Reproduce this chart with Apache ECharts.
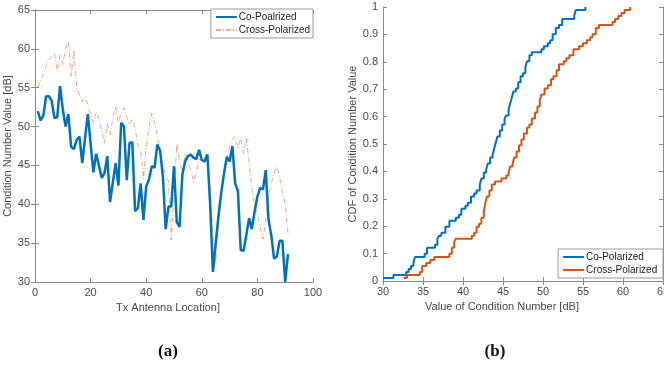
<!DOCTYPE html>
<html>
<head>
<meta charset="utf-8">
<script src="https://cdn.jsdelivr.net/npm/echarts@6/dist/echarts.min.js"></script>
<style>
  html, body { margin: 0; padding: 0; background: #fff; }
  #chart { width: 664px; height: 372px; }
</style>
</head>
<body>
<div id="chart"></div>
<script>
// (a) condition number per Tx antenna location, locations 1..91
const coPol = [
  52.0, 50.8, 51.4, 53.9, 53.9, 53.3, 51.1, 51.2, 55.2, 52.2,
  50.0, 51.6, 47.4, 47.1, 48.3, 48.7, 45.3, 48.5, 51.6, 47.8,
  44.1, 46.5, 45.0, 43.4, 44.0, 46.2, 40.3, 42.8, 45.3, 42.4,
  50.5, 50.0, 43.1, 47.9, 48.0, 39.1, 39.5, 42.7, 38.0, 42.3,
  43.2, 44.9, 44.7, 47.7, 46.9, 43.6, 36.8, 39.7, 39.7, 44.9,
  37.7, 37.1, 43.8, 45.5, 46.2, 46.4, 46.0, 45.8, 47.0, 45.7,
  45.5, 46.4, 40.0, 31.3, 35.0, 38.5, 41.5, 44.0, 46.1, 45.5,
  47.5, 42.7, 41.7, 34.1, 34.0, 36.0, 38.2, 36.8, 39.1, 41.0,
  42.1, 41.9, 44.4, 38.0, 36.0, 33.0, 33.3, 35.3, 35.3, 30.0,
  33.6
];
const crossPol = [
  55.0, 56.0, 56.6, 57.8, 58.6, 59.0, 59.5, 57.1, 59.2, 58.0,
  60.1, 61.0, 56.5, 59.8, 55.0, 54.0, 53.2, 53.8, 52.8, 51.5,
  50.4, 51.9, 51.0, 49.5, 47.8, 50.4, 49.0, 51.0, 52.6, 50.5,
  51.8, 52.4, 51.2, 50.3, 51.0, 49.8, 47.5, 47.0, 43.3, 47.5,
  50.0, 51.7, 50.5, 48.7, 46.5, 45.0, 43.7, 43.0, 35.4, 41.0,
  47.8, 45.5, 44.0, 46.5, 45.5, 44.5, 42.9, 44.0, 45.9, 45.5,
  46.0, 46.6, 42.0, 36.0, 32.5, 37.0, 41.5, 44.5, 46.0, 47.5,
  48.3, 48.7, 47.2, 48.6, 46.5, 48.5, 45.5, 42.0, 40.0, 38.8,
  37.0, 35.5, 38.0, 41.0, 42.7, 44.0, 44.9, 43.5, 41.5, 40.0,
  36.3
];

// (b) CDF steps: [condition number dB, cumulative probability]
const coCdf = [
  [30, 0.011], [31.3, 0.022], [32.9, 0.033], [33.2, 0.044], [33.5, 0.055],
  [33.8, 0.066], [34.0, 0.088], [35.2, 0.099], [35.5, 0.121], [36.5, 0.132],
  [36.8, 0.154], [37.0, 0.165], [37.3, 0.176], [37.8, 0.198], [38.3, 0.220],
  [39.1, 0.231], [39.5, 0.242], [39.8, 0.264], [40.3, 0.275], [40.6, 0.286],
  [41.0, 0.308], [41.4, 0.319], [41.7, 0.330], [42.1, 0.352], [42.3, 0.374],
  [42.6, 0.396], [42.9, 0.407], [43.1, 0.429], [43.4, 0.451], [43.7, 0.462],
  [43.9, 0.484], [44.1, 0.505], [44.3, 0.527], [44.6, 0.549], [44.9, 0.571],
  [45.2, 0.593], [45.4, 0.604], [45.7, 0.626], [45.9, 0.648], [46.1, 0.670],
  [46.3, 0.692], [46.6, 0.703], [46.9, 0.725], [47.2, 0.747], [47.5, 0.758],
  [47.8, 0.780], [48.0, 0.802], [48.3, 0.824], [48.6, 0.835], [49.8, 0.846],
  [50.1, 0.857], [50.6, 0.868], [50.9, 0.879], [51.2, 0.901], [51.6, 0.923],
  [52.0, 0.934], [52.4, 0.956], [53.9, 0.967], [54.1, 0.989], [55.3, 1.0]
];
const crossCdf = [
  [32.6, 0.011], [33.0, 0.022], [34.6, 0.033], [34.9, 0.055], [35.4, 0.066],
  [35.9, 0.077], [36.4, 0.088], [38.3, 0.099], [38.6, 0.121], [38.9, 0.143],
  [39.1, 0.154], [41.1, 0.165], [41.4, 0.176], [41.7, 0.198], [42.0, 0.209],
  [42.3, 0.231], [42.6, 0.253], [42.8, 0.286], [43.0, 0.308], [43.3, 0.330],
  [43.6, 0.352], [44.0, 0.363], [44.8, 0.374], [45.4, 0.385], [45.7, 0.396],
  [45.9, 0.418], [46.2, 0.429], [46.4, 0.451], [46.7, 0.473], [47.0, 0.495],
  [47.3, 0.516], [47.6, 0.538], [48.0, 0.560], [48.3, 0.571], [48.6, 0.593],
  [49.0, 0.615], [49.3, 0.637], [49.6, 0.659], [49.8, 0.681], [50.2, 0.703],
  [50.6, 0.714], [51.0, 0.736], [51.3, 0.747], [51.7, 0.769], [52.0, 0.791],
  [52.6, 0.802], [52.9, 0.813], [53.3, 0.824], [53.8, 0.846], [54.5, 0.857],
  [55.0, 0.868], [55.5, 0.879], [55.9, 0.890], [56.2, 0.901], [56.6, 0.923],
  [57.0, 0.934], [58.7, 0.945], [59.0, 0.956], [59.4, 0.967], [59.8, 0.978],
  [60.2, 0.989], [60.9, 1.0]
];

const BLUE = "#0072BD";
const ORANGE = "#D95319";
const AXIS = "#8a8a8a";
const LABEL = "#4a4a4a";
const FONT = "Liberation Sans";

function axisBase(min, max, interval, horizontal) {
  const label = { color: LABEL, fontSize: 11, fontFamily: FONT, margin: 5 };
  if (horizontal) {
    label.alignMinLabel = "center";
    label.alignMaxLabel = "center";
  } else {
    label.verticalAlignMinLabel = "middle";
    label.verticalAlignMaxLabel = "middle";
  }
  return {
    type: "value",
    min, max, interval,
    axisLine: { show: true, lineStyle: { color: AXIS, width: 1 } },
    axisTick: { show: true, inside: true, length: 4, lineStyle: { color: AXIS } },
    splitLine: { show: false },
    axisLabel: label,
    nameTextStyle: { color: LABEL, fontSize: 11, fontFamily: FONT },
  };
}

// opposite-side spine with inward ticks, no labels (matlab box)
function mirror(base, pos) {
  return Object.assign({}, base, {
    position: pos,
    axisLabel: { show: false },
    name: "",
  });
}

function legendBox(names, pos) {
  return Object.assign({
    data: names,
    orient: "vertical",
    itemWidth: 21, itemHeight: 8, itemGap: 3,
    padding: [3, 3, 3, 4],
    borderColor: "#9a9a9a", borderWidth: 1, borderRadius: 0,
    backgroundColor: "#fff",
    itemStyle: { opacity: 0 },
    textStyle: { color: "#222", fontSize: 10, fontFamily: FONT, padding: [0, 0, 0, -3] },
  }, pos);
}

const ax0 = Object.assign(axisBase(0, 100, 20, true), {
  gridIndex: 0, position: "bottom",
  name: "Tx Antenna Location]", nameLocation: "middle", nameGap: 17,
  nameTextStyle: { color: LABEL, fontSize: 11, fontFamily: FONT, padding: [0, 12, 0, 0] },
});
const ay0 = Object.assign(axisBase(30, 65, 5, false), {
  gridIndex: 0, position: "left",
  name: "Condition Number Value [dB]", nameLocation: "middle", nameGap: 19,
});
const ax1 = Object.assign(axisBase(30, 65, 5, true), {
  gridIndex: 1, position: "bottom",
  name: "Value of Condition Number [dB]", nameLocation: "middle", nameGap: 17,
  nameTextStyle: { color: LABEL, fontSize: 11, fontFamily: FONT, padding: [0, 42, 0, 0] },
});
const ay1 = Object.assign(axisBase(0, 1, 0.1, false), {
  gridIndex: 1, position: "left",
  name: "CDF of Condition Number Value", nameLocation: "middle", nameGap: 21,
});
ay1.axisLabel.formatter = (v) => String(Math.round(v * 10) / 10);

const option = {
  animation: false,
  backgroundColor: "#fff",
  textStyle: { fontFamily: FONT },
  grid: [
    { left: 35, top: 10, width: 278, height: 272, outerBoundsMode: "none" },
    { left: 383, top: 7, width: 280, height: 274, outerBoundsMode: "none" },
  ],
  xAxis: [ax0, mirror(ax0, "top"), ax1, mirror(ax1, "top")],
  yAxis: [ay0, mirror(ay0, "right"), ay1, mirror(ay1, "right")],
  legend: [
    legendBox(["Co-Poalrized", "Cross-Polarized"], { right: 351, top: 9 }),
    legendBox(["Co-Polarized", "Cross-Polarized "], { right: 1, top: 249 }),
  ],
  graphic: [
    { type: "text", x: 168, y: 352, style: { text: "(a)", align: "center", verticalAlign: "middle", font: "bold 17px 'Liberation Serif'", fill: "#111" } },
    { type: "text", x: 495, y: 352, style: { text: "(b)", align: "center", verticalAlign: "middle", font: "bold 17px 'Liberation Serif'", fill: "#111" } },
  ],
  series: [
    {
      name: "Cross-Polarized", type: "line", xAxisIndex: 0, yAxisIndex: 0,
      data: crossPol.map((v, i) => [i + 1, v]),
      showSymbol: false, symbol: "none",
      lineStyle: { color: "rgba(217,83,25,0.5)", width: 1, type: [5, 2, 1, 2] },
      itemStyle: { color: "rgba(217,83,25,0.5)" },
      z: 2,
    },
    {
      name: "Co-Poalrized", type: "line", xAxisIndex: 0, yAxisIndex: 0,
      data: coPol.map((v, i) => [i + 1, v]),
      showSymbol: false, symbol: "none",
      lineStyle: { color: BLUE, width: 2.5 },
      itemStyle: { color: BLUE },
      z: 3,
    },
    {
      name: "Co-Polarized", type: "line", xAxisIndex: 2, yAxisIndex: 2,
      data: coCdf, step: "end",
      showSymbol: false, symbol: "none",
      lineStyle: { color: BLUE, width: 2 },
      itemStyle: { color: BLUE },
    },
    {
      name: "Cross-Polarized ", type: "line", xAxisIndex: 2, yAxisIndex: 2,
      data: crossCdf, step: "end",
      showSymbol: false, symbol: "none",
      lineStyle: { color: ORANGE, width: 2 },
      itemStyle: { color: ORANGE },
    },
  ],
};

const chart = echarts.init(document.getElementById("chart"), null, { renderer: "canvas" });
chart.setOption(option);
</script>
</body>
</html>
